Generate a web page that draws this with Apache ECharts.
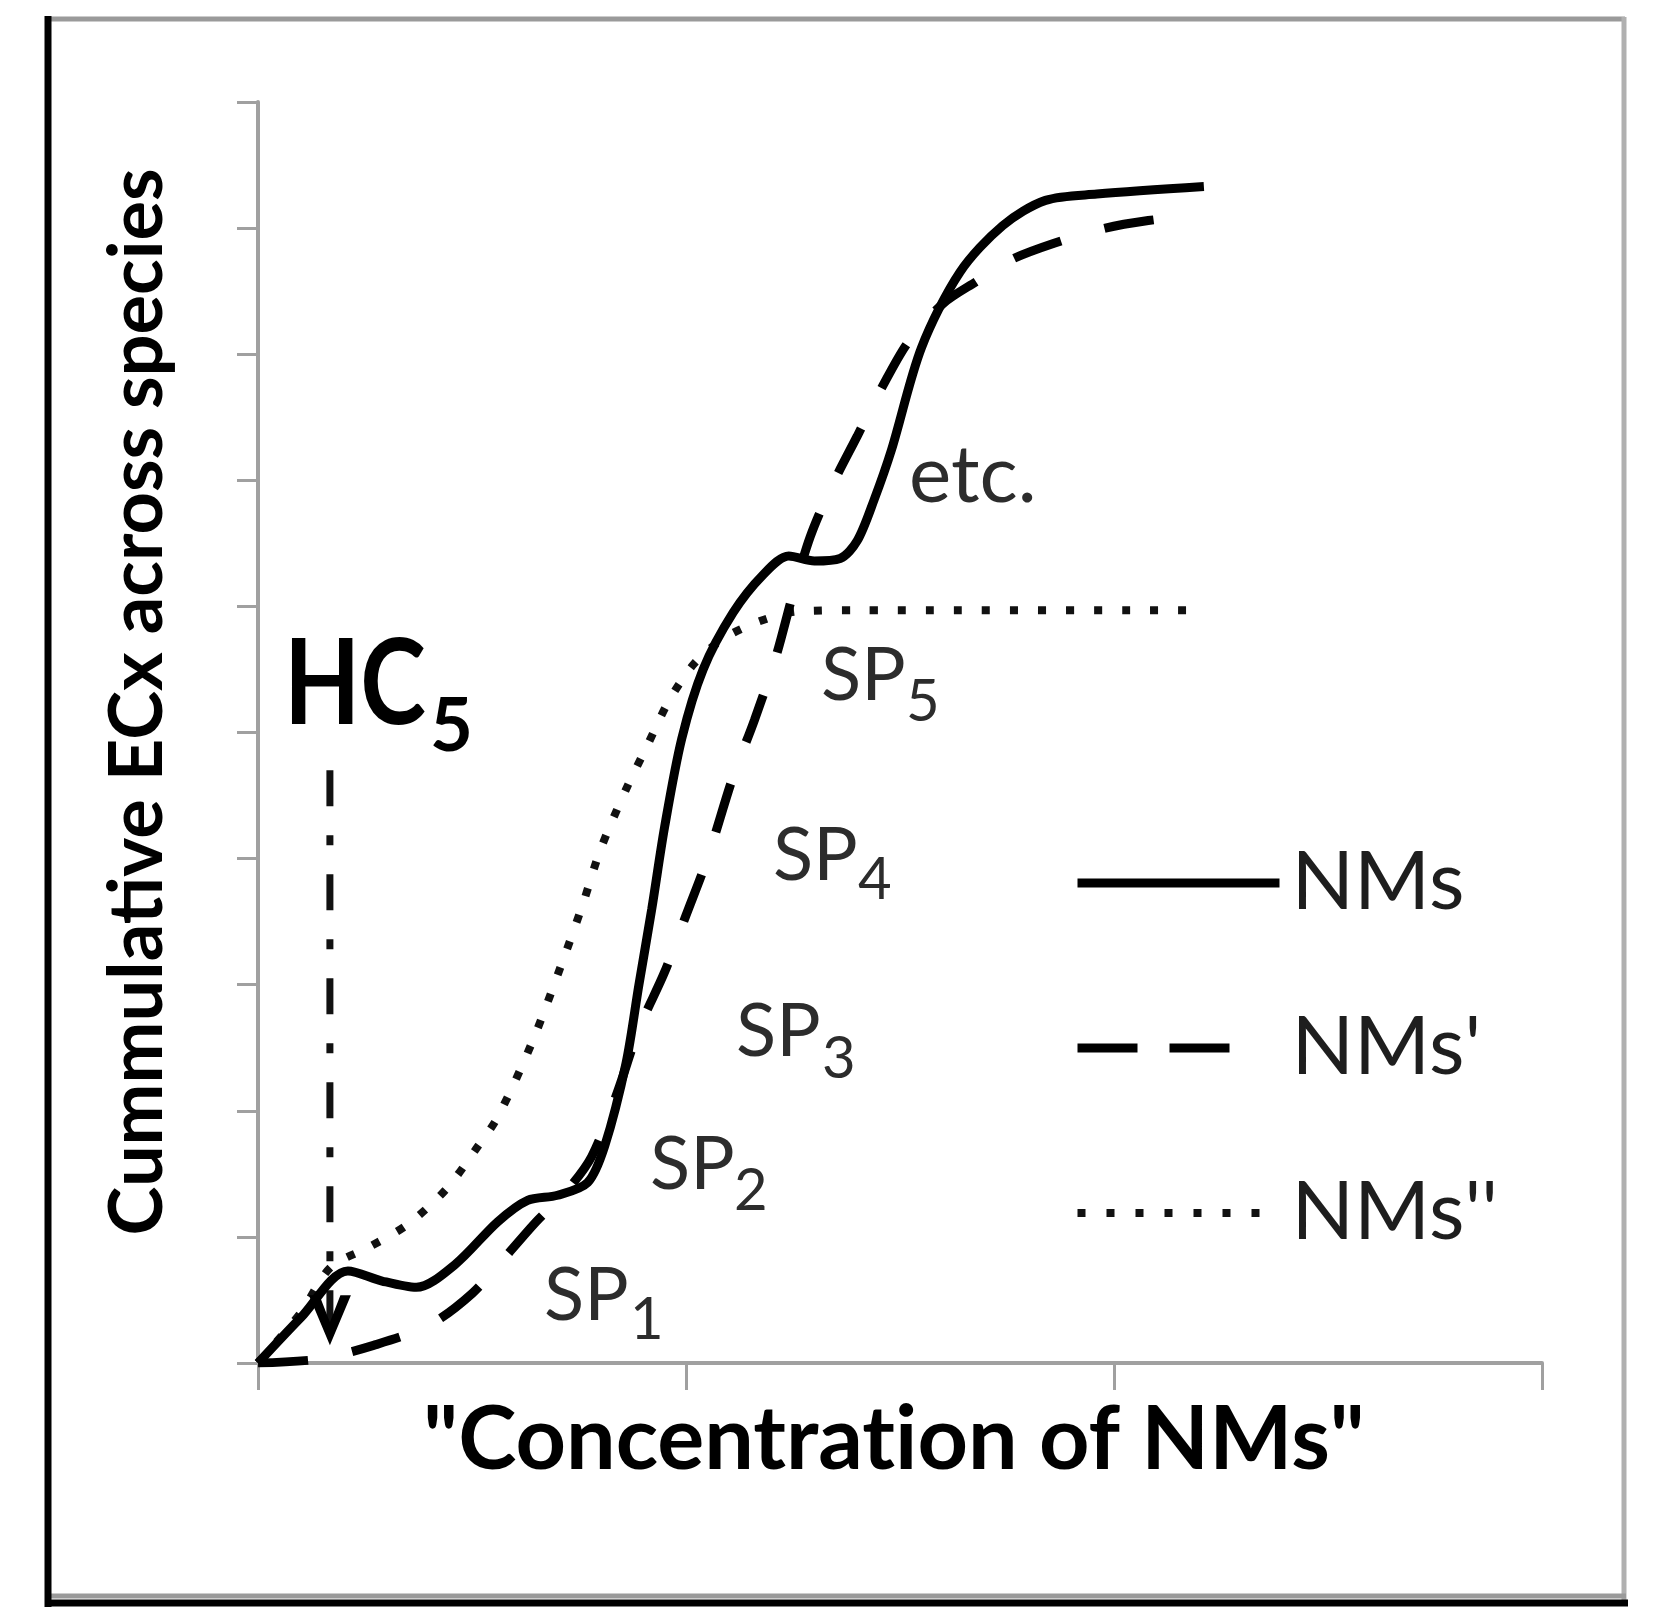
<!DOCTYPE html>
<html>
<head>
<meta charset="utf-8">
<title>Cummulative ECx across species</title>
<script src="https://cdn.jsdelivr.net/npm/echarts@6/dist/echarts.min.js"></script>
<style>
  html, body { margin: 0; padding: 0; background: #fff; }
  #chart { width: 1654px; height: 1624px; }
</style>
</head>
<body>
<div id="chart"></div>
<script>
// series names, in legend order
const seriesNames = ['NMs', "NMs'", "NMs''"];

// NMs (solid curve), [concentration, cumulative ECx]
const nmsData = [
  [0, 0], [0.10, 0.36], [0.21, 0.73], [0.29, 0.65], [0.37, 0.60],
  [0.46, 0.78], [0.56, 1.12], [0.63, 1.29], [0.70, 1.33], [0.77, 1.43],
  [0.81, 1.72], [0.86, 2.38], [0.89, 3.00], [0.92, 3.60], [0.95, 4.25],
  [0.99, 4.95], [1.04, 5.50], [1.11, 5.95], [1.18, 6.25], [1.24, 6.40],
  [1.30, 6.36], [1.36, 6.38], [1.40, 6.52], [1.44, 6.85], [1.48, 7.24],
  [1.55, 8.05], [1.64, 8.65], [1.74, 9.02], [1.84, 9.22], [1.96, 9.27],
  [2.21, 9.33]
];

// NMs' (dashed curve)
const nmsPrimeData = [
  [0, 0], [0.14, 0.03], [0.27, 0.14], [0.40, 0.30], [0.50, 0.55],
  [0.58, 0.85], [0.65, 1.12], [0.72, 1.36], [0.78, 1.64], [0.84, 2.15],
  [0.89, 2.65], [0.95, 3.10], [1.00, 3.55], [1.05, 4.00], [1.11, 4.65],
  [1.16, 5.10], [1.21, 5.60], [1.25, 6.10], [1.29, 6.55], [1.34, 6.95],
  [1.40, 7.35], [1.46, 7.75], [1.52, 8.10], [1.60, 8.40], [1.68, 8.58],
  [1.76, 8.75], [1.86, 8.88], [1.98, 9.00], [2.08, 9.06], [2.19, 9.10]
];

// NMs'' (dotted curve)
const nmsDoublePrimeData = [
  [0, 0], [0.10, 0.40], [0.17, 0.76], [0.26, 0.92], [0.35, 1.10],
  [0.44, 1.38], [0.51, 1.70], [0.56, 1.95], [0.64, 2.54], [0.71, 3.17],
  [0.76, 3.65], [0.80, 4.07], [0.86, 4.55], [0.91, 4.90], [0.96, 5.25],
  [1.02, 5.55], [1.09, 5.75], [1.17, 5.88], [1.26, 5.96], [1.40, 5.97],
  [2.18, 5.97]
];

// HC5 marker: concentration, top of the line, arrow tip
const hc5X = 0.168;
const hc5Top = 4.70;
const hc5Tip = 0.14;

// axis ticks (no tick labels are printed)
const xTicks = [0, 1, 2, 3];
const yTicks = [0, 1, 2, 3, 4, 5, 6, 7, 8, 9, 10];

// species labels along the curves
const spLabels = ['1', '2', '3', '4', '5'];

const FONT = 'Lato, "Liberation Sans", sans-serif';
const AXIS_GRAY = '#a0a0a0';
const LABEL_GRAY = '#2c2c2c';

const chart = echarts.init(document.getElementById('chart'));

// label positions (pixels): SP text and its subscript
const spPos = [
  { x: 544, y: 1296, sx: 630, sy: 1320 },
  { x: 650, y: 1165, sx: 734, sy: 1191 },
  { x: 736, y: 1032, sx: 822, sy: 1059 },
  { x: 773, y: 856, sx: 858, sy: 880 },
  { x: 821, y: 676, sx: 906, sy: 702 }
];

const graphics = [];

// frame around the figure
graphics.push(
  { type: 'line', shape: { x1: 48, y1: 19, x2: 1625, y2: 19 }, style: { stroke: '#9a9a9a', lineWidth: 5 } },
  { type: 'line', shape: { x1: 1624, y1: 17, x2: 1624, y2: 1604 }, style: { stroke: '#b0b0b0', lineWidth: 5 } },
  { type: 'line', shape: { x1: 48, y1: 1596, x2: 1626, y2: 1596 }, style: { stroke: '#9a9a9a', lineWidth: 5 } },
  { type: 'line', shape: { x1: 45, y1: 1603, x2: 1628, y2: 1603 }, style: { stroke: '#000', lineWidth: 7 } },
  { type: 'line', shape: { x1: 48, y1: 16, x2: 48, y2: 1607 }, style: { stroke: '#000', lineWidth: 7 } }
);

// SP labels
spLabels.forEach((n, i) => {
  const p = spPos[i];
  graphics.push({
    type: 'text', x: p.x, y: p.y,
    style: { text: 'SP', font: '74px ' + FONT, fill: LABEL_GRAY, align: 'left', verticalAlign: 'middle' }
  });
  graphics.push({
    type: 'text', x: p.sx, y: p.sy,
    style: { text: n, font: '58px ' + FONT, fill: LABEL_GRAY, align: 'left', verticalAlign: 'middle' }
  });
});

graphics.push(
  { type: 'text', x: 909, y: 476,
    style: { text: 'etc.', font: '80px ' + FONT, fill: LABEL_GRAY, align: 'left', verticalAlign: 'middle' } },
  // HC5
  { type: 'text', x: 284, y: 686, scaleX: 0.84,
    style: { text: 'HC', font: 'bold 118px ' + FONT, fill: '#000', align: 'left', verticalAlign: 'middle' } },
  { type: 'text', x: 430, y: 727,
    style: { text: '5', font: 'bold 74px ' + FONT, fill: '#000', align: 'left', verticalAlign: 'middle' } },
  // axis titles (split into two runs so "ti" is not drawn as a ligature)
  { type: 'text', x: 894, y: 1441,
    style: {
      text: '{t|"Concentrat}{t|ion of NMs"}',
      rich: { t: { fontFamily: 'Lato', fontWeight: 'bold', fontSize: 88, fill: '#000' } },
      align: 'center', verticalAlign: 'middle'
    } },
  { type: 'text', x: 138, y: 702, rotation: Math.PI / 2,
    style: { text: 'Cummulative ECx across species', font: 'bold 74px ' + FONT, fill: '#000', align: 'center', verticalAlign: 'middle' } }
);

chart.setOption({
  animation: false,
  backgroundColor: '#fff',
  grid: { left: 258, top: 102, width: 1284, height: 1261, outerBoundsMode: 'none' },
  xAxis: {
    type: 'value',
    min: xTicks[0],
    max: xTicks[xTicks.length - 1],
    interval: 1,
    axisLine: { show: true, lineStyle: { color: AXIS_GRAY, width: 4 } },
    axisTick: { show: true, length: 27, lineStyle: { color: AXIS_GRAY, width: 3 } },
    axisLabel: { show: false },
    splitLine: { show: false }
  },
  yAxis: {
    type: 'value',
    min: yTicks[0],
    max: yTicks[yTicks.length - 1],
    interval: 1,
    axisLine: { show: true, lineStyle: { color: AXIS_GRAY, width: 4 } },
    axisTick: { show: true, length: 21, lineStyle: { color: AXIS_GRAY, width: 3 } },
    axisLabel: { show: false },
    splitLine: { show: false }
  },
  legend: {
    data: [
      { name: seriesNames[0] },
      { name: seriesNames[1], lineStyle: { type: [60, 32, 60, 200] } },
      { name: seriesNames[2], lineStyle: { type: [8, 21] } }
    ],
    orient: 'vertical',
    left: 1068,
    top: 837,
    itemWidth: 202,
    itemHeight: 16,
    itemGap: 83,
    selectedMode: false,
    itemStyle: { opacity: 0 },
    lineStyle: { width: 'inherit' },
    textStyle: { fontFamily: 'Lato', fontSize: 82, color: '#1e1e1e', padding: [0, 0, 0, 7] }
  },
  series: [
    {
      name: seriesNames[0], type: 'line', data: nmsData, smooth: 0.3,
      symbol: 'none', z: 5,
      lineStyle: { color: '#000', width: 9, type: 'solid' },
      itemStyle: { color: '#000' }
    },
    {
      name: seriesNames[1], type: 'line', data: nmsPrimeData, smooth: 0.3,
      symbol: 'none', z: 4,
      lineStyle: { color: '#000', width: 9, type: [50, 45] },
      itemStyle: { color: '#000' }
    },
    {
      name: seriesNames[2], type: 'line', data: nmsDoublePrimeData, smooth: 0.3,
      symbol: 'none', z: 3,
      lineStyle: { color: '#111', width: 8, type: [8, 20] },
      itemStyle: { color: '#111' }
    },
    {
      name: 'HC5', type: 'line', z: 3,
      showSymbol: true,
      symbol: 'none',
      data: [
        { value: [hc5X, hc5Top], symbol: 'none' },
        {
          value: [hc5X, hc5Tip],
          symbol: 'path://M0,0 L22,52 L44,0 L33,0 L22,28 L11,0 Z',
          symbolSize: [42, 50],
          symbolOffset: [0, '-50%'],
          itemStyle: { color: '#000' }
        }
      ],
      lineStyle: { color: '#111', width: 7, type: [36, 29, 10, 29] },
      itemStyle: { color: '#000' }
    }
  ],
  graphic: graphics
});
</script>
</body>
</html>
